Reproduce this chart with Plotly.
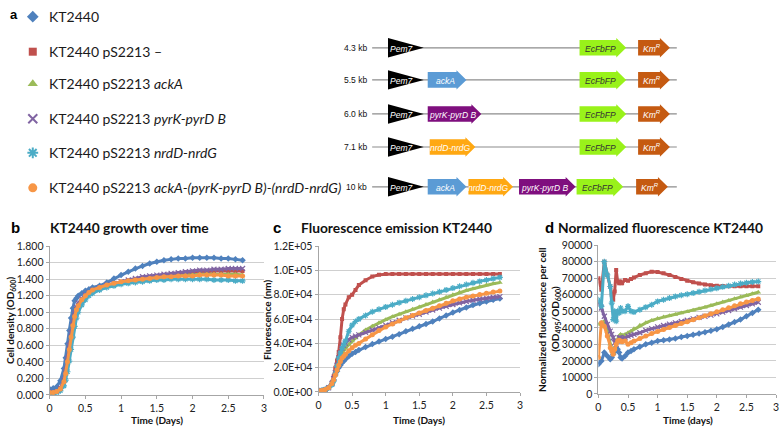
import plotly.graph_objects as go

# ---------------- data ----------------
time_days = [0, 0.05, 0.1, 0.15, 0.2, 0.225, 0.25, 0.275, 0.3, 0.325, 0.35, 0.375, 0.4, 0.45, 0.5, 0.55, 0.6,
             0.7, 0.8, 0.9, 1.0, 1.1, 1.2, 1.3, 1.4, 1.5, 1.6, 1.7, 1.8, 1.9, 2.0, 2.1, 2.2, 2.3, 2.4, 2.5, 2.6, 2.7]

strain_names = [
    "KT2440",
    "KT2440 pS2213 –",
    "KT2440 pS2213 <i>ackA</i>",
    "KT2440 pS2213 <i>pyrK-pyrD B</i>",
    "KT2440 pS2213 <i>nrdD-nrdG</i>",
    "KT2440 pS2213 <i>ackA-(pyrK-pyrD B)-(nrdD-nrdG)</i>",
]

# cell density OD600 (panel b)
od_kt2440 = [0.07, 0.08, 0.10, 0.17, 0.32, 0.45, 0.62, 0.78, 0.93, 1.05, 1.14, 1.17, 1.20, 1.23, 1.26, 1.28, 1.30,
             1.32, 1.36, 1.41, 1.45, 1.49, 1.53, 1.56, 1.59, 1.61, 1.63, 1.64, 1.65, 1.65, 1.66, 1.66, 1.66, 1.66, 1.65, 1.65, 1.64, 1.63]
od_empty = [0.03, 0.03, 0.04, 0.08, 0.18, 0.28, 0.42, 0.57, 0.72, 0.86, 0.97, 1.04, 1.09, 1.15, 1.20, 1.23, 1.26,
            1.29, 1.32, 1.34, 1.36, 1.38, 1.40, 1.41, 1.43, 1.44, 1.45, 1.46, 1.47, 1.48, 1.48, 1.49, 1.49, 1.50, 1.50, 1.50, 1.50, 1.50]
od_acka = [0.03, 0.03, 0.04, 0.07, 0.16, 0.25, 0.38, 0.53, 0.68, 0.82, 0.94, 1.02, 1.07, 1.14, 1.19, 1.23, 1.26,
           1.29, 1.32, 1.34, 1.36, 1.38, 1.39, 1.40, 1.41, 1.42, 1.43, 1.44, 1.44, 1.45, 1.45, 1.46, 1.46, 1.46, 1.46, 1.46, 1.46, 1.45]
od_pyrk = [0.03, 0.03, 0.04, 0.08, 0.18, 0.29, 0.44, 0.60, 0.75, 0.89, 0.99, 1.06, 1.11, 1.16, 1.21, 1.24, 1.27,
           1.30, 1.33, 1.35, 1.37, 1.39, 1.41, 1.43, 1.44, 1.45, 1.46, 1.47, 1.48, 1.49, 1.50, 1.51, 1.51, 1.52, 1.52, 1.53, 1.53, 1.53]
od_nrdd = [0.02, 0.02, 0.03, 0.05, 0.11, 0.18, 0.28, 0.41, 0.55, 0.70, 0.83, 0.93, 1.00, 1.09, 1.15, 1.20, 1.23,
           1.27, 1.30, 1.32, 1.34, 1.35, 1.36, 1.37, 1.38, 1.39, 1.39, 1.40, 1.40, 1.40, 1.40, 1.40, 1.40, 1.39, 1.39, 1.39, 1.38, 1.38]
od_all = [0.03, 0.03, 0.04, 0.07, 0.16, 0.26, 0.40, 0.55, 0.70, 0.84, 0.95, 1.03, 1.08, 1.15, 1.20, 1.24, 1.27,
          1.30, 1.33, 1.35, 1.37, 1.38, 1.39, 1.40, 1.41, 1.42, 1.43, 1.43, 1.44, 1.44, 1.44, 1.45, 1.45, 1.45, 1.45, 1.44, 1.44, 1.44]

# fluorescence emission (panel c)
fl_kt2440 = [1000, 1200, 2000, 3500, 7000, 10000, 14000, 17000, 20000, 22000, 24000, 25500, 27000, 29500, 31500, 33000, 34500,
             37000, 39500, 41500, 43500, 45500, 47500, 50000, 52000, 54000, 56000, 58000, 60500, 63000, 65500, 67500, 69500, 71500, 73000, 74500, 76000, 77000]
fl_empty = [1500, 1500, 2500, 4000, 8000, 13000, 20000, 26000, 33000, 45000, 60000, 68000, 72000, 78000, 80000, 84000, 88000,
            92000, 95000, 96500, 97000, 97000, 97000, 97000, 97000, 97000, 97000, 97000, 97000, 97000, 97000, 97000, 97000, 97000, 97000, 97000, 97000, 97000]
fl_acka = [1000, 1200, 2000, 3500, 7000, 10000, 14000, 18000, 23000, 28000, 32000, 34500, 36000, 39000, 42000, 44500, 47000,
           51000, 54000, 57000, 59500, 62000, 64000, 66000, 68000, 70000, 72000, 74000, 76000, 78000, 80000, 82000, 83500, 85000, 86500, 88000, 89000, 90000]
fl_pyrk = [1000, 1200, 2000, 3500, 7000, 11000, 16000, 22000, 28000, 32000, 36000, 38500, 40000, 43000, 45000, 46000, 47000,
           49000, 51000, 53000, 55000, 57000, 59000, 61000, 62500, 64000, 65800, 67500, 69000, 70500, 72000, 73300, 74500, 75500, 76500, 77300, 78000, 78500]
fl_nrdd = [1000, 1200, 2000, 3500, 6000, 9000, 15000, 21000, 28000, 32000, 36000, 39000, 42000, 50000, 55000, 58000, 60000,
           63000, 66000, 68000, 70000, 71800, 73500, 75000, 76500, 78000, 79500, 81000, 82500, 84000, 85500, 87000, 88500, 89800, 91000, 92200, 93300, 94300]
fl_all = [1000, 1200, 2000, 3500, 7000, 10000, 14000, 18000, 22000, 25000, 28000, 29500, 31000, 34000, 36500, 38500, 40000,
          43500, 47000, 50500, 53500, 56000, 58500, 61000, 63000, 65000, 67000, 69000, 71000, 73000, 75000, 76500, 78000, 79000, 80200, 81300, 82300, 83000]

# normalized fluorescence per cell (panel d)
nf_kt2440 = [18000, 20000, 25000, 23000, 21000, 22000, 24000, 26000, 26500, 27000, 25000, 22000, 21500, 23000, 25000, 26000, 27000,
             28500, 30000, 31000, 32000, 32500, 33000, 33500, 34500, 35000, 35800, 36500, 37300, 38200, 39200, 40500, 42000, 43500, 45000, 47000, 49000, 51000]
nf_empty = [70000, 63000, 80000, 72000, 65000, 60000, 57000, 62000, 75000, 68000, 67000, 68000, 67000, 69000, 68500, 69500, 70500,
            72000, 73000, 74000, 73800, 73000, 72000, 70800, 69600, 68500, 67600, 66800, 66200, 65800, 65500, 65300, 65200, 65200, 65200, 65200, 65200, 65200]
nf_acka = [42000, 43000, 44000, 38000, 30000, 27000, 25000, 28000, 31000, 33000, 35000, 36000, 35500, 36000, 37000, 38000, 39500,
           41500, 43000, 44500, 45700, 46500, 47300, 48100, 48900, 49700, 50600, 51500, 52500, 53500, 54600, 55600, 56600, 57600, 58600, 59600, 60600, 61500]
nf_pyrk = [55000, 52000, 47000, 42000, 38000, 36000, 34000, 31000, 30000, 32000, 34000, 34000, 33500, 34000, 35000, 35500, 36000,
           37000, 38500, 39500, 40600, 41400, 42200, 43000, 43800, 44600, 45400, 46300, 47000, 47700, 48400, 49500, 50500, 51500, 52500, 53500, 54500, 55500]
nf_nrdd = [57000, 53000, 80000, 72000, 65000, 55000, 45000, 50000, 44000, 50000, 49000, 52000, 50000, 50000, 53000, 50000, 49500,
           51000, 52500, 54000, 56000, 57000, 58000, 59000, 59700, 60300, 61000, 61800, 62600, 63300, 64000, 64800, 65500, 66200, 66800, 67300, 67700, 68000]
nf_all = [22000, 43000, 41000, 35000, 28000, 26000, 24000, 27000, 30000, 32000, 32500, 32000, 31500, 32000, 30000, 31000, 32000,
          33500, 35000, 36500, 37800, 39000, 40200, 41400, 42600, 43700, 44900, 46100, 47300, 48500, 49700, 50900, 52100, 53300, 54500, 55600, 56600, 57500]

od_series = [od_kt2440, od_empty, od_acka, od_pyrk, od_nrdd, od_all]
fl_series = [fl_kt2440, fl_empty, fl_acka, fl_pyrk, fl_nrdd, fl_all]
nf_series = [nf_kt2440, nf_empty, nf_acka, nf_pyrk, nf_nrdd, nf_all]

x_tickvals = [0, 0.5, 1, 1.5, 2, 2.5, 3]
x_ticktext = ["0", "0.5", "1", "1.5", "2", "2.5", "3"]
fl_tickvals = [0, 20000, 40000, 60000, 80000, 100000, 120000]
fl_ticktext = ["0.0E+00", "2.0E+04", "4.0E+04", "6.0E+04", "8.0E+04", "1.0E+05", "1.2E+05"]

# constructs (panel a)
construct_sizes = ["4.3 kb", "5.5 kb", "6.0 kb", "7.1 kb", "10 kb"]
construct_genes = [
    ["EcFbFP", "KmR"],
    ["ackA", "EcFbFP", "KmR"],
    ["pyrK-pyrD B", "EcFbFP", "KmR"],
    ["nrdD-nrdG", "EcFbFP", "KmR"],
    ["ackA", "nrdD-nrdG", "pyrK-pyrD B", "EcFbFP", "KmR"],
]

# ---------------- styles / layout geometry ----------------
W, H = 784, 433
colors = ["#4F81BD", "#C0504D", "#9BBB59", "#8064A2", "#4BACC6", "#F79646"]
symbols = ["diamond", "square", "triangle-up", "x-thin-open", "asterisk-open", "circle"]
msizes = [6, 5, 6, 6, 6, 6]

gene_style = {
    "ackA": ("#5B9BD5", "white"),
    "pyrK-pyrD B": ("#7F0F7E", "white"),
    "nrdD-nrdG": ("#FFA812", "white"),
    "EcFbFP": ("#99F21A", "#333333"),
    "KmR": ("#C55A11", "white"),
}
gene_label = {"ackA": "<i>ackA</i>", "pyrK-pyrD B": "<i>pyrK-pyrD B</i>", "nrdD-nrdG": "<i>nrdD-nrdG</i>",
              "EcFbFP": "<i>EcFbFP</i>", "KmR": "<i>Km<sup>R</sup></i>"}
row_y = [43, 76, 111, 145, 186]
gene_x = [
    [(581, 628), (640, 672)],
    [(428, 467), (581, 628), (640, 672)],
    [(428, 482), (581, 628), (640, 672)],
    [(430, 476), (581, 628), (640, 672)],
    [(428, 467), (469, 514), (520, 577), (578, 625), (638, 670)],
]
legend_y = [11, 47, 80, 116, 151, 187]

FONT = "Lato"
ARIAL = "Liberation Sans"


def px_dom_x(a, b):
    return [a / W, b / W]


def px_dom_y(top, bottom):
    return [(H - bottom) / H, (H - top) / H]


fig = go.Figure()

axes_pairs = [("x", "y", od_series), ("x2", "y2", fl_series), ("x3", "y3", nf_series)]
for xa, ya, data in axes_pairs:
    for i in range(6):
        fig.add_trace(go.Scatter(
            x=time_days, y=data[i], xaxis=xa, yaxis=ya, mode="lines+markers",
            line=dict(color=colors[i], width=3),
            marker=dict(symbol=symbols[i], size=msizes[i] - 1, color=colors[i],
                        line=dict(width=1.2 if "open" in symbols[i] else 0, color=colors[i])),
            showlegend=False, hoverinfo="skip"))

# legend markers (panel a) on an overlay pixel axis
for i in range(6):
    fig.add_trace(go.Scatter(
        x=[30], y=[legend_y[i]], xaxis="x4", yaxis="y4", mode="markers",
        marker=dict(symbol=symbols[i], size=9 if i != 1 else 8, color=colors[i],
                    line=dict(width=2 if "open" in symbols[i] else 0, color=colors[i])),
        showlegend=False, hoverinfo="skip"))

annotations = []
shapes = []

for i in range(6):
    annotations.append(dict(x=44, y=legend_y[i], xref="x4", yref="y4", text=strain_names[i],
                            showarrow=False, xanchor="left", yanchor="middle",
                            font=dict(family=FONT, size=14, color="#1a1a1a")))

# construct diagrams
for r, size in enumerate(construct_sizes):
    y = row_y[r]
    shapes.append(dict(type="line", xref="x4", yref="y4", x0=372, x1=679, y0=y, y1=y,
                       line=dict(color="#8c8c8c", width=1.2), layer="below"))
    annotations.append(dict(x=369, y=y, xref="x4", yref="y4", text=size, showarrow=False,
                            xanchor="right", yanchor="middle", font=dict(family=ARIAL, size=8.5, color="#111")))
    # promoter
    shapes.append(dict(type="path", xref="x4", yref="y4",
                       path=f"M 388 {y-10} L 424 {y} L 388 {y+10} Z",
                       fillcolor="black", line=dict(width=0), layer="above"))
    annotations.append(dict(x=388, y=y + 1, xref="x4", yref="y4", text="<i>Pem7</i>", showarrow=False,
                            xanchor="left", yanchor="middle", font=dict(family=ARIAL, size=8.5, color="white")))
    for g, (x0, x1) in zip(construct_genes[r], gene_x[r]):
        fill, tcol = gene_style[g]
        xh = x1 - 10
        shapes.append(dict(type="path", xref="x4", yref="y4",
                           path=(f"M {x0} {y-8} L {xh} {y-8} L {xh} {y-10} L {x1} {y} "
                                 f"L {xh} {y+10} L {xh} {y+8} L {x0} {y+8} Z"),
                           fillcolor=fill, line=dict(width=0), layer="above"))
        annotations.append(dict(x=(x0 + xh) / 2 + 3, y=y + 1, xref="x4", yref="y4", text=gene_label[g],
                                showarrow=False, xanchor="center", yanchor="middle",
                                font=dict(family=ARIAL, size=8.5, color=tcol)))

# panel letters and titles
annotations.append(dict(x=5, y=9, xref="x4", yref="y4", text="<b>a</b>", showarrow=False,
                        xanchor="left", yanchor="middle", font=dict(family=ARIAL, size=13, color="black")))
for letter, lx, title, tx in [("b", 6, "KT2440 growth over time", 45),
                              ("c", 270, "Fluorescence emission KT2440", 298),
                              ("d", 544, "Normalized fluorescence KT2440", 557)]:
    annotations.append(dict(x=lx, y=228, xref="x4", yref="y4", text=f"<b>{letter}</b>", showarrow=False,
                            xanchor="left", yanchor="middle", font=dict(family=ARIAL, size=15, color="black")))
    annotations.append(dict(x=tx, y=228, xref="x4", yref="y4", text=f"<b>{title}</b>", showarrow=False,
                            xanchor="left", yanchor="middle", font=dict(family=FONT, size=13.8, color="#111")))

# axis titles
for cx, t in [(155, "Time (Days)"), (419, "Time (Days)"), (690, "Time (days)")]:
    annotations.append(dict(x=cx, y=426, xref="x4", yref="y4", text=f"<b>{t}</b>", showarrow=False,
                            xanchor="center", yanchor="middle", font=dict(family=FONT, size=10, color="#111")))
for cx, cy, t in [(7, 323, "Cell density (OD<sub>600</sub>)"), (266, 322, "Fluorescence (nm)"),
                  (543, 322, "Normalized fluorescence per cell"), (556, 322, "(OD<sub>495</sub>/OD<sub>600</sub>)")]:
    annotations.append(dict(x=cx, y=cy, xref="x4", yref="y4", text=f"<b>{t}</b>", showarrow=False,
                            textangle=-90, xanchor="center", yanchor="middle",
                            font=dict(family=FONT, size=10, color="#111")))

grid_c = "#cfcfcf"
axis_c = "#a6a6a6"
tickfont = dict(family=FONT, size=10.5, color="#222")


def xaxis_cfg(dom, anchor):
    return dict(domain=dom, anchor=anchor, range=[0, 3], tickvals=x_tickvals, ticktext=x_ticktext,
                showgrid=False, zeroline=False, showline=True, linecolor=axis_c, linewidth=1,
                ticks="outside", ticklen=3, tickcolor=axis_c, tickfont=tickfont, fixedrange=True)


def yaxis_cfg(dom, anchor, rng, **kw):
    d = dict(domain=dom, anchor=anchor, range=rng, showgrid=True, gridcolor=grid_c, gridwidth=1,
             zeroline=False, showline=True, linecolor=axis_c, linewidth=1, ticks="outside", ticklen=3,
             tickcolor=axis_c, tickfont=tickfont, fixedrange=True)
    d.update(kw)
    return d


fig.update_layout(
    width=W, height=H, margin=dict(l=0, r=0, t=0, b=0),
    paper_bgcolor="white", plot_bgcolor="rgba(0,0,0,0)", showlegend=False,
    xaxis=xaxis_cfg(px_dom_x(47, 263), "y"),
    yaxis=yaxis_cfg(px_dom_y(247, 400), "x", [0, 1.8], dtick=0.2, tickformat=".3f"),
    xaxis2=xaxis_cfg(px_dom_x(318, 521), "y2"),
    yaxis2=yaxis_cfg(px_dom_y(247, 397), "x2", [0, 120000], tickvals=fl_tickvals, ticktext=fl_ticktext),
    xaxis3=xaxis_cfg(px_dom_x(600, 779), "y3"),
    yaxis3=yaxis_cfg(px_dom_y(246, 399), "x3", [0, 90000], dtick=10000, tickformat="d"),
    xaxis4=dict(domain=[0, 1], anchor="y4", range=[0, W], visible=False, fixedrange=True),
    yaxis4=dict(domain=[0, 1], anchor="x4", range=[H, 0], visible=False, fixedrange=True),
    annotations=annotations, shapes=shapes,
)

fig.write_html("out.html", config={"displayModeBar": False},
               post_script="document.body.style.margin='0px';document.body.style.overflow='hidden';")
